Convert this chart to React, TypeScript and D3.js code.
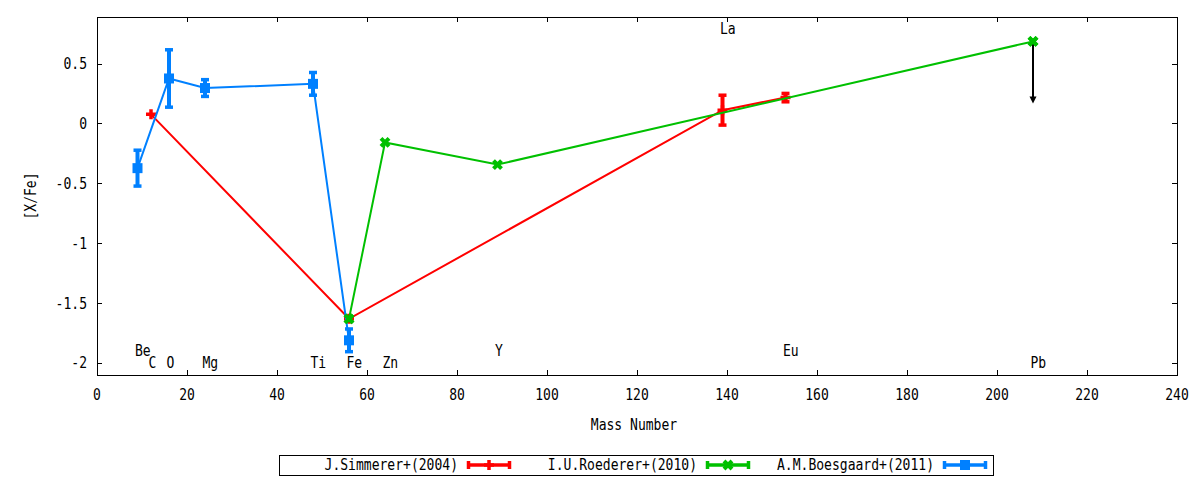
// App.tsx
import React from 'react';
import * as d3 from 'd3';

interface Pt {
    mass: number;
    value: number;
    err: number;
}

// [X/Fe] vs mass number
const simmerer: Pt[] = [
    { mass: 12, value: 0.08, err: 0 },
    { mass: 56, value: -1.63, err: 0 },
    { mass: 139, value: 0.115, err: 0.125 },
    { mass: 153, value: 0.22, err: 0.035 },
];

const roederer: Pt[] = [
    { mass: 56, value: -1.63, err: 0 },
    { mass: 64, value: -0.155, err: 0 },
    { mass: 89, value: -0.34, err: 0 },
    { mass: 208, value: 0.69, err: 0 },
];

const boesgaard: Pt[] = [
    { mass: 9, value: -0.37, err: 0.15 },
    { mass: 16, value: 0.38, err: 0.24 },
    { mass: 24, value: 0.3, err: 0.07 },
    { mass: 48, value: 0.335, err: 0.095 },
    { mass: 56, value: -1.81, err: 0.095 },
];

// Pb upper limit arrow
const pbLimit = { mass: 208, from: 0.69, to: 0.17 };

const elementLabels = [
    { name: 'Be', mass: 9, y: -1.9 },
    { name: 'C', mass: 12, y: -2.0 },
    { name: 'O', mass: 16, y: -2.0 },
    { name: 'Mg', mass: 24, y: -2.0 },
    { name: 'Ti', mass: 48, y: -2.0 },
    { name: 'Fe', mass: 56, y: -2.0 },
    { name: 'Zn', mass: 64, y: -2.0 },
    { name: 'Y', mass: 89, y: -1.9 },
    { name: 'La', mass: 139, y: 0.8 },
    { name: 'Eu', mass: 153, y: -1.9 },
    { name: 'Pb', mass: 208, y: -2.0 },
];

const xTicks = d3.range(0, 241, 20);
const yTicks = [-2, -1.5, -1, -0.5, 0, 0.5];

const seriesNames = ['J.Simmerer+(2004)', 'I.U.Roederer+(2010)', 'A.M.Boesgaard+(2011)'];
const seriesColors = ['#ff0000', '#00c000', '#0080ff'];

const W = 1200;
const H = 480;
const plot = { left: 97, right: 1177, top: 17, bottom: 375 };

const x = d3.scaleLinear().domain([0, 240]).range([plot.left, plot.right]);
const y = d3.scaleLinear().domain([-2.1, 0.9]).range([plot.bottom, 16.3]);

const FONT = 'DejaVu Sans Mono';
const SX = 0.87;

const Txt: React.FC<{ x: number; y: number; anchor?: string; rot?: boolean; children: React.ReactNode }> = ({ x, y, anchor = 'middle', rot, children }) => (
    <text
        transform={`translate(${x},${y})${rot ? ' rotate(-90)' : ''} scale(${SX},1)`}
        textAnchor={anchor}
        dominantBaseline="central"
        fontFamily={FONT}
        fontSize={15}
        fill="#000"
    >
        {children}
    </text>
);

const Marker: React.FC<{ kind: number; cx: number; cy: number; color: string }> = ({ kind, cx, cy, color }) => {
    if (kind === 0) {
        return <path d={`M${cx - 5},${cy}H${cx + 5}M${cx},${cy - 5}V${cy + 5}`} stroke={color} strokeWidth={3.5} />;
    }
    if (kind === 1) {
        return <path d={`M${cx - 4},${cy - 4}L${cx + 4},${cy + 4}M${cx - 4},${cy + 4}L${cx + 4},${cy - 4}`} stroke={color} strokeWidth={4} />;
    }
    return <rect x={cx - 5} y={cy - 5} width={10} height={10} fill={color} />;
};

const line = d3.line<Pt>().x(d => x(d.mass)).y(d => y(d.value));

const Series: React.FC<{ data: Pt[]; kind: number; color: string }> = ({ data, kind, color }) => (
    <g>
        <path d={line(data) || ''} fill="none" stroke={color} strokeWidth={2} />
        {data.filter(d => d.err > 0).map((d, i) => (
            <g key={i} stroke={color}>
                <line x1={x(d.mass)} x2={x(d.mass)} y1={y(d.value + d.err)} y2={y(d.value - d.err)} strokeWidth={4} />
                <line x1={x(d.mass) - 4} x2={x(d.mass) + 4} y1={y(d.value + d.err)} y2={y(d.value + d.err)} strokeWidth={3.5} />
                <line x1={x(d.mass) - 4} x2={x(d.mass) + 4} y1={y(d.value - d.err)} y2={y(d.value - d.err)} strokeWidth={3.5} />
            </g>
        ))}
        {data.map((d, i) => (
            <Marker key={i} kind={kind} cx={x(d.mass)} cy={y(d.value)} color={color} />
        ))}
    </g>
);

const App: React.FC = () => {
    const tick = 5;
    const legendY = 465;
    const legendEnds = [458, 697, 934];

    return (
        <svg width={W} height={H} style={{ position: 'absolute', left: 0, top: 0, background: '#fff' }}>
            <rect x={0} y={0} width={W} height={H} fill="#fff" />

            {/* ticks, mirrored on all four sides */}
            <g stroke="#000" strokeWidth={1} shapeRendering="crispEdges">
                {xTicks.map(t => (
                    <g key={t}>
                        <line x1={x(t)} x2={x(t)} y1={plot.bottom} y2={plot.bottom - tick} />
                        <line x1={x(t)} x2={x(t)} y1={plot.top} y2={plot.top + tick} />
                    </g>
                ))}
                {yTicks.map(t => (
                    <g key={t}>
                        <line x1={plot.left} x2={plot.left + tick} y1={y(t)} y2={y(t)} />
                        <line x1={plot.right} x2={plot.right - tick} y1={y(t)} y2={y(t)} />
                    </g>
                ))}
                <rect x={plot.left} y={plot.top} width={plot.right - plot.left} height={plot.bottom - plot.top} fill="none" />
            </g>

            {xTicks.map(t => (
                <Txt key={t} x={x(t)} y={395}>{t}</Txt>
            ))}
            {yTicks.map(t => (
                <Txt key={t} x={87} y={y(t)} anchor="end">{String(t)}</Txt>
            ))}

            <Txt x={634} y={425}>Mass Number</Txt>
            <Txt x={31} y={196} rot>[X/Fe]</Txt>

            {elementLabels.map(l => (
                <Txt key={l.name} x={x(l.mass) - 2.5} y={y(l.y)} anchor="start">{l.name}</Txt>
            ))}

            <Series data={simmerer} kind={0} color={seriesColors[0]} />
            <Series data={roederer} kind={1} color={seriesColors[1]} />
            <Series data={boesgaard} kind={2} color={seriesColors[2]} />
            <Marker kind={1} cx={x(roederer[0].mass)} cy={y(roederer[0].value)} color={seriesColors[1]} />

            {/* upper limit on Pb */}
            <g>
                <line x1={x(pbLimit.mass)} x2={x(pbLimit.mass)} y1={y(pbLimit.from)} y2={y(pbLimit.to) - 5} stroke="#000" strokeWidth={2} />
                <path
                    d={`M${x(pbLimit.mass) - 3.5},${y(pbLimit.to) - 7}L${x(pbLimit.mass) + 3.5},${y(pbLimit.to) - 7}L${x(pbLimit.mass)},${y(pbLimit.to)}Z`}
                    fill="#000"
                />
            </g>
            <Marker kind={1} cx={x(roederer[3].mass)} cy={y(roederer[3].value)} color={seriesColors[1]} />

            {/* legend */}
            <rect x={279.5} y={455.5} width={714} height={20} fill="none" stroke="#000" strokeWidth={1} />
            {seriesNames.map((name, i) => {
                const x0 = legendEnds[i] + 9;
                const x1 = x0 + 44;
                const c = seriesColors[i];
                return (
                    <g key={name}>
                        <Txt x={legendEnds[i]} y={legendY} anchor="end">{name}</Txt>
                        <line x1={x0} x2={x1} y1={legendY} y2={legendY} stroke={c} strokeWidth={3.5} />
                        <line x1={x0 + 1.5} x2={x0 + 1.5} y1={legendY - 4} y2={legendY + 4} stroke={c} strokeWidth={3.5} />
                        <line x1={x1 - 1.5} x2={x1 - 1.5} y1={legendY - 4} y2={legendY + 4} stroke={c} strokeWidth={3.5} />
                        <Marker kind={i} cx={(x0 + x1) / 2} cy={legendY} color={c} />
                    </g>
                );
            })}
        </svg>
    );
};

export default App;
